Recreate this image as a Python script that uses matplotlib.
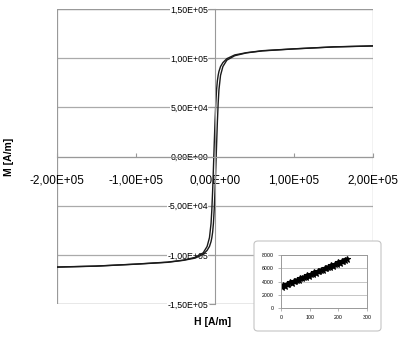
import matplotlib
matplotlib.use("Agg")
import matplotlib.pyplot as plt
from matplotlib.patches import FancyBboxPatch, Rectangle

plt.rcParams['font.family'] = ['Liberation Sans', 'DejaVu Sans']

# ---- main hysteresis loop data (H in A/m, M in A/m) ----
H_loop = [200000, 150000, 100000, 60000, 40000, 25000, 15000, 10000, 7000, 5000,
          4000, 3000, 2000, 1000, 0, -1000, -2000, -3000, -4000, -5000,
          -7000, -10000, -15000, -25000, -40000, -60000, -100000, -150000, -200000]
M_desc = [112500, 111500, 109500, 107600, 105600, 103300, 99500, 95500, 91500, 86500,
          82500, 77000, 68000, 54000, 35000, 12000, -12000, -35000, -54000, -68000,
          -82500, -91500, -98000, -102500, -105400, -107400, -109400, -111400, -112400]
M_asc = [112400, 111400, 109400, 107400, 105400, 102500, 98000, 91500, 82500, 68000,
         54000, 35000, 12000, -12000, -35000, -54000, -68000, -77000, -82500, -86500,
         -91500, -95500, -99500, -103300, -105600, -107600, -109500, -111500, -112500]

x_ticks = [-200000, -100000, 0, 100000, 200000]
x_labels = ["-2,00E+05", "-1,00E+05", "0,00E+00", "1,00E+05", "2,00E+05"]
y_ticks = [-150000, -100000, -50000, 0, 50000, 100000, 150000]
y_labels = ["-1,50E+05", "-1,00E+05", "-5,00E+04", "0,00E+00", "5,00E+04", "1,00E+05", "1,50E+05"]

# ---- inset data ----
H_in = [2, 8, 14, 20, 26, 32, 38, 44, 50, 56, 62, 68, 74, 80, 86, 92, 98, 104, 110, 116,
        122, 128, 134, 140, 146, 152, 158, 164, 170, 176, 182, 188, 194, 200, 206, 212,
        218, 224, 230]
M_in = [3180, 3400, 3380, 3620, 3600, 3850, 3820, 4050, 4030, 4280, 4250, 4500, 4460,
        4700, 4680, 4930, 4900, 5140, 5110, 5360, 5330, 5580, 5540, 5790, 5760, 6010,
        5970, 6230, 6190, 6440, 6400, 6660, 6620, 6870, 6840, 7090, 7060, 7300, 7380]
in_xticks = [0, 100, 200, 300]
in_yticks = [0, 2000, 4000, 6000, 8000]

W, Hh = 400, 337
fig = plt.figure(figsize=(W / 100, Hh / 100), dpi=100)
gray = '#999999'

ax = fig.add_axes([57 / W, 1 - 304 / Hh, 316 / W, 295 / Hh])
ax.set_xlim(-200000, 200000)
ax.set_ylim(-150000, 150000)
for s in ['top', 'right']:
    ax.spines[s].set_visible(False)
ax.spines['left'].set_position(('data', 0))
ax.spines['bottom'].set_position(('data', 0))
ax.spines['left'].set_color(gray)
ax.spines['bottom'].set_color(gray)
ax.spines['left'].set_linewidth(0.8)
ax.spines['bottom'].set_linewidth(0.8)
ax.add_patch(Rectangle((0, 0), 1, 1, transform=ax.transAxes, fill=False,
                       edgecolor=gray, lw=0.9, zorder=0.5))
for y in y_ticks:
    ax.axhline(y, color='#aaaaaa', lw=0.9, zorder=0.4)

ax.set_xticks(x_ticks)
ax.set_xticklabels(x_labels, fontsize=8.5)
ax.tick_params(axis='x', direction='in', length=3, color=gray, pad=13)
ax.set_yticks(y_ticks)
ax.set_yticklabels(y_labels, fontsize=6.3)
ax.tick_params(axis='y', direction='out', length=4, color=gray, pad=1)
for t in ax.get_yticklabels():
    t.set_bbox(dict(facecolor='white', edgecolor='none', pad=0.3))
    t.set_zorder(3)

ax.plot(H_loop, M_desc, color='#1a1a1a', lw=1.0, zorder=2)
ax.plot(H_loop, M_asc, color='#1a1a1a', lw=1.0, zorder=2)

fig.text(213 / W, 1 - 322 / Hh, "H [A/m]", fontsize=7.5, fontweight='bold',
         ha='center', va='center')
fig.text(9 / W, 1 - 157 / Hh, "M [A/m]", fontsize=7.5, fontweight='bold',
         ha='center', va='center', rotation=90)

# ---- inset frame ----
frame = FancyBboxPatch((254 / W, 1 - 331 / Hh), 127 / W, 90 / Hh,
                       boxstyle="round,pad=0,rounding_size=0.01",
                       transform=fig.transFigure, facecolor='white',
                       edgecolor='#c4c4c4', lw=0.8, zorder=5)
fig.patches.append(frame)

axi = fig.add_axes([281 / W, 1 - 308 / Hh, 86 / W, 53 / Hh], zorder=6)
axi.set_xlim(0, 300)
axi.set_ylim(0, 8000)
for s in axi.spines.values():
    s.set_color(gray)
    s.set_linewidth(0.7)
for y in in_yticks[1:]:
    axi.axhline(y, color='#bbbbbb', lw=0.6, zorder=0.5)
axi.plot(H_in, M_in, linestyle='none', marker='*', color='black', ms=4.5, mew=0.8)
axi.set_xticks(in_xticks)
axi.set_xticklabels([str(v) for v in in_xticks], fontsize=3.8)
axi.set_yticks(in_yticks)
axi.set_yticklabels([str(v) for v in in_yticks], fontsize=3.8)
axi.tick_params(length=2, width=0.5, color=gray, pad=3)

fig.savefig("out.png", dpi=100)
